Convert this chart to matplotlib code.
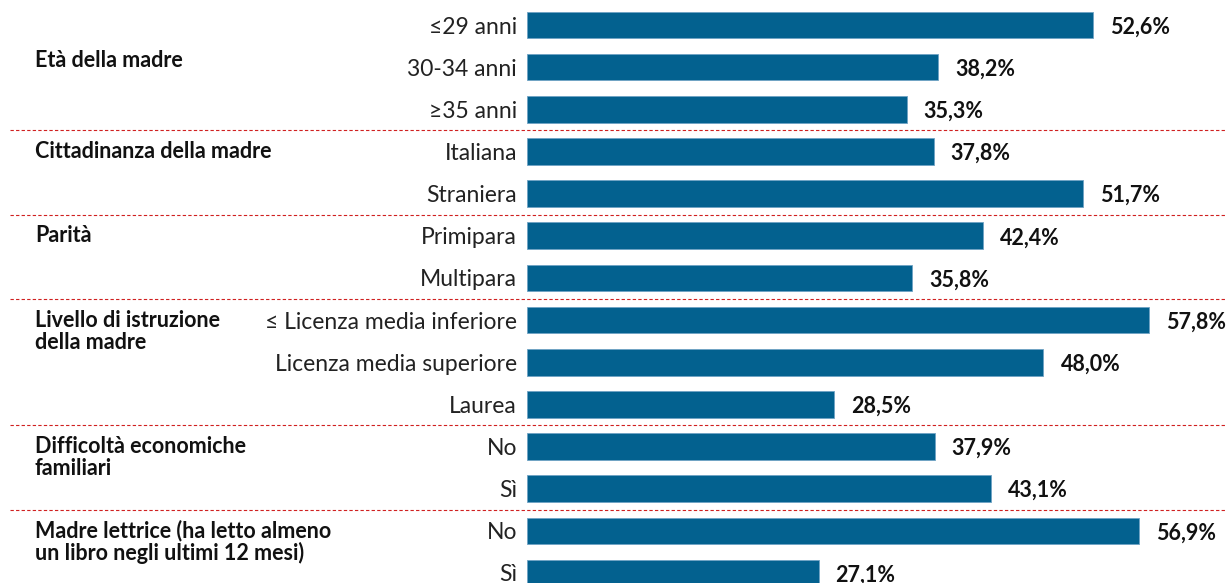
import matplotlib.pyplot as plt

plt.rcParams['font.family'] = ['Lato', 'DejaVu Sans']

categories = ['≤29 anni', '30-34 anni', '≥35 anni',
              'Italiana', 'Straniera',
              'Primipara', 'Multipara',
              '≤ Licenza media inferiore', 'Licenza media superiore', 'Laurea',
              'No', 'Sì',
              'No', 'Sì']
values = [52.6, 38.2, 35.3, 37.8, 51.7, 42.4, 35.8, 57.8, 48.0, 28.5,
          37.9, 43.1, 56.9, 27.1]
groups = ['Età della madre', 'Cittadinanza della madre', 'Parità',
          'Livello di istruzione\ndella madre',
          'Difficoltà economiche\nfamiliari',
          'Madre lettrice (ha letto almeno\nun libro negli ultimi 12 mesi)']
group_sizes = [3, 2, 2, 3, 2, 2]

fig = plt.figure(figsize=(12.26, 5.83), dpi=100)
ax = fig.add_axes([0, 0, 1, 1])

y = list(range(len(values)))
ax.barh(y, values, height=0.63, color='#03618F', edgecolor='#6fa3c4', linewidth=0.6)

px = 10.76  # pixels per unit
pitch = 42.15
ax.set_xlim(-527 / px, (1226 - 527) / px)
ax.set_ylim(13 + 10 / pitch, -25 / pitch)
ax.axis('off')

for i, (c, v) in enumerate(zip(categories, values)):
    ax.text(-10 / px, i, c, ha='right', va='center_baseline', fontsize=16.5, color='#222222')
    ax.text(v + 17 / px, i, f'{v:.1f}%'.replace('.', ','), ha='left', va='center_baseline',
            fontsize=15.5, fontweight='bold', color='#111111')

start = 0
for g, n in zip(groups, group_sizes):
    ypos = start + (0.85 if start == 0 else 0)
    for k, line in enumerate(g.split('\n')):
        ax.text(-492 / px, ypos + k * 0.53, line, ha='left', va='center', fontsize=15.5,
                fontweight='bold', color='#111111')
    start += n
    if start < len(values):
        ax.axhline(start - 0.5, xmin=10 / 1226, xmax=1, color='#D02020',
                   linestyle=(0, (3, 2)), linewidth=0.8)

fig.savefig('out.png', dpi=100)
